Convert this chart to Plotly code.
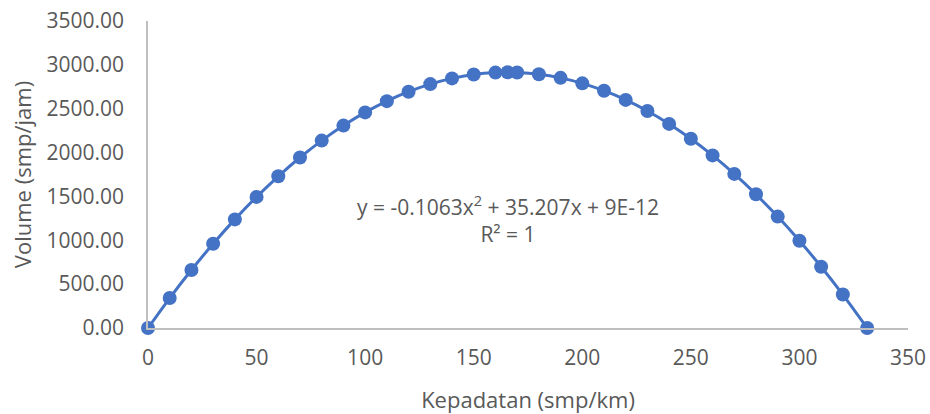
import plotly.graph_objects as go

kepadatan = [0, 10, 20, 30, 40, 50, 60, 70, 80, 90, 100, 110, 120, 130, 140, 150,
             160, 165.6, 170, 180, 190, 200, 210, 220, 230, 240, 250, 260, 270, 280,
             290, 300, 310, 320, 331.2]
volume = [0, 341.4, 661.6, 960.5, 1238.2, 1494.6, 1729.7, 1943.6, 2136.2, 2307.6,
          2457.7, 2586.5, 2694.1, 2780.4, 2845.5, 2889.3, 2911.8, 2915.2, 2913.1,
          2893.1, 2851.9, 2789.4, 2705.6, 2600.6, 2474.3, 2326.8, 2158.0, 1967.9,
          1756.6, 1524.0, 1270.2, 995.1, 698.7, 381.1, 0]

x_ticks = [0, 50, 100, 150, 200, 250, 300, 350]
y_ticks = [0, 500, 1000, 1500, 2000, 2500, 3000, 3500]
y_tick_labels = [f"{v:.2f}" for v in y_ticks]

blue = "#4472C4"
gray_text = "#595959"
font_family = "Open Sans"

fig = go.Figure()
fig.add_trace(go.Scatter(
    x=kepadatan, y=volume, mode="lines+markers",
    line=dict(color=blue, width=3, shape="spline", smoothing=0.6),
    marker=dict(color=blue, size=14),
    showlegend=False, cliponaxis=False,
))

fig.add_annotation(
    x=166, y=1243, xref="x", yref="y",
    text="y = -0.1063x<sup>2</sup> + 35.207x + 9E-12<br>R² = 1",
    showarrow=False, align="center",
    font=dict(family=font_family, size=21, color=gray_text),
)

fig.update_layout(
    width=930, height=414,
    margin=dict(l=148, r=22, t=21, b=86),
    paper_bgcolor="white", plot_bgcolor="white",
    font=dict(family=font_family, size=21, color=gray_text),
    xaxis=dict(
        range=[0, 350], tickvals=x_ticks, ticktext=[str(v) for v in x_ticks],
        showgrid=False, zeroline=False, showline=True, linecolor="#BFBFBF",
        linewidth=1.5, ticks="", ticklen=0, automargin=False,
        ticklabelstandoff=10, ticklabeloverflow="allow",
        title=dict(text="Kepadatan (smp/km)", standoff=23,
                   font=dict(size=22, color=gray_text)),
        tickfont=dict(size=21, color=gray_text),
    ),
    yaxis=dict(
        range=[0, 3500], tickvals=y_ticks, ticktext=y_tick_labels,
        showgrid=False, zeroline=False, showline=True, linecolor="#BFBFBF",
        linewidth=1.5, ticks="", ticklen=0, automargin=False,
        ticklabelstandoff=18, ticklabeloverflow="allow",
        title=dict(text="Volume (smp/jam)", standoff=9,
                   font=dict(size=22, color=gray_text)),
        tickfont=dict(size=21, color=gray_text),
    ),
)

fig.write_html(
    "out.html",
    config={"displayModeBar": False},
    post_script="document.body.style.margin='0';document.body.style.overflow='hidden';",
)
